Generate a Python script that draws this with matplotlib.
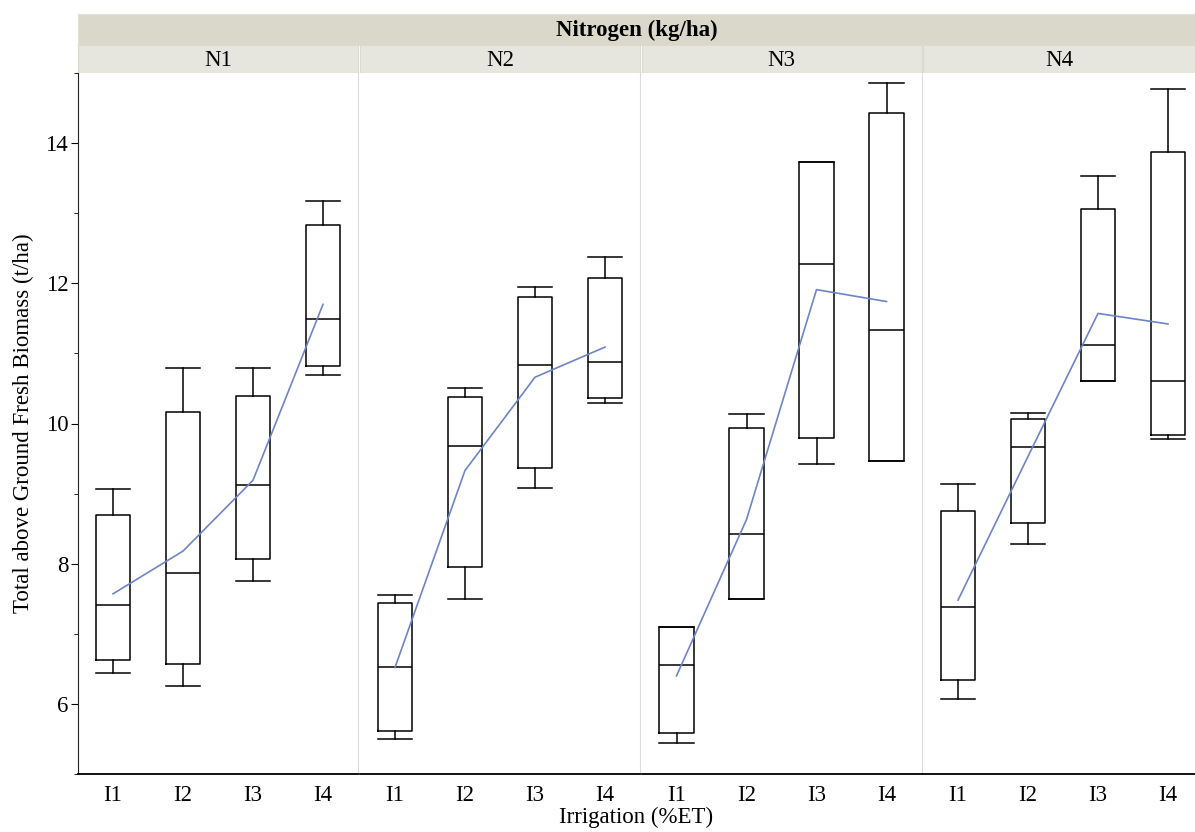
# boxplots of fresh biomass by irrigation level, one panel per nitrogen rate
import numpy as np
import matplotlib.pyplot as plt
from matplotlib.ticker import MultipleLocator

plt.rcParams['font.family'] = ['Liberation Serif', 'DejaVu Serif']

panels = ["N1", "N2", "N3", "N4"]
levels = ["I1", "I2", "I3", "I4"]

# one row per panel, values for I1..I4
whis_lo = [[6.44, 6.26, 7.75, 10.69], [5.50, 7.49, 9.08, 10.29],
           [5.44, 7.49, 9.42, 9.47], [6.07, 8.28, 10.60, 9.78]]
q1 = [[6.63, 6.57, 8.06, 10.82], [5.61, 7.95, 9.37, 10.37],
      [5.59, 7.49, 9.79, 9.47], [6.34, 8.58, 10.60, 9.83]]
med = [[7.41, 7.87, 9.12, 11.49], [6.53, 9.68, 10.83, 10.88],
       [6.55, 8.43, 12.28, 11.34], [7.38, 9.66, 11.12, 10.60]]
q3 = [[8.70, 10.16, 10.39, 12.83], [7.44, 10.38, 11.80, 12.07],
      [7.09, 9.94, 13.73, 14.43], [8.75, 10.07, 13.06, 13.87]]
whis_hi = [[9.07, 10.79, 10.79, 13.18], [7.55, 10.51, 11.95, 12.37],
           [7.09, 10.13, 13.73, 14.86], [9.14, 10.15, 13.53, 14.77]]
means = [[7.57, 8.18, 9.19, 11.70], [6.52, 9.33, 10.66, 11.09],
         [6.40, 8.63, 11.91, 11.74], [7.48, 9.53, 11.57, 11.42]]

W, H = 1195, 832
FS = 16.5
fig = plt.figure(figsize=(W / 100, H / 100), dpi=100)


def px_axes(x0, y0, x1, y1):
    return fig.add_axes([x0 / W, 1 - y1 / H, (x1 - x0) / W, (y1 - y0) / H])


starts = [78, 360, 641.5, 923]
widths_px = [280, 280, 280, 272]
pos = np.arange(4) + 0.5

# top strip
top = px_axes(78, 14, 1195, 45)
top.set_facecolor('#dad8cb')
top.set_xticks([])
top.set_yticks([])
for s in top.spines.values():
    s.set_color('#e4e2d8')
top.text(0.5, 0.48, "Nitrogen (kg/ha)", ha='center', va='center',
         fontsize=FS, fontweight='bold', transform=top.transAxes)

for k in range(4):
    x0 = starts[k]
    x1 = x0 + widths_px[k]

    # panel strip
    st = px_axes(x0, 45, x1, 73)
    st.set_facecolor('#e7e6de')
    st.set_xticks([])
    st.set_yticks([])
    for s in st.spines.values():
        s.set_color('#dcdad0')
    st.text(0.5, 0.45, panels[k], ha='center', va='center', fontsize=FS,
            transform=st.transAxes)

    ax = px_axes(x0, 73, x1, 774)
    stats = []
    for j in range(4):
        stats.append(dict(med=med[k][j], q1=q1[k][j], q3=q3[k][j],
                          whislo=whis_lo[k][j], whishi=whis_hi[k][j],
                          mean=means[k][j], label=levels[j]))
    lp = dict(color='black', linewidth=1.1)
    ax.bxp(stats, positions=pos, widths=0.49, capwidths=0.49,
           showfliers=False, boxprops=lp, medianprops=lp,
           whiskerprops=lp, capprops=lp)
    ax.plot(pos, means[k], color='#6d85c6', linewidth=1.2, zorder=5)

    ax.set_xlim(0, widths_px[k] / 70)
    ax.set_ylim(5, 15)
    ax.set_xticks(pos)
    ax.set_xticklabels(levels, fontsize=FS)
    ax.tick_params(axis='x', length=0, pad=8)
    ax.spines['top'].set_visible(False)
    ax.spines['bottom'].set_color('black')
    ax.spines['bottom'].set_linewidth(1.3)
    if k < 3:
        ax.spines['right'].set_color('#dcdcdc')
    else:
        ax.spines['right'].set_visible(False)
    if k == 0:
        ax.spines['left'].set_color('#222222')
        ax.set_yticks([6, 8, 10, 12, 14])
        ax.yaxis.set_minor_locator(MultipleLocator(1))
        ax.tick_params(axis='y', which='major', length=5, labelsize=FS, pad=2)
        ax.tick_params(axis='y', which='minor', length=3)
        ax.set_ylabel("Total above Ground Fresh Biomass (t/ha)", fontsize=FS,
                      labelpad=8)
    else:
        ax.spines['left'].set_visible(False)
        ax.set_yticks([])

fig.text(636 / W, 1 - 817 / H, "Irrigation (%ET)", ha='center', va='center',
         fontsize=FS)

fig.savefig("out.png", dpi=100)
